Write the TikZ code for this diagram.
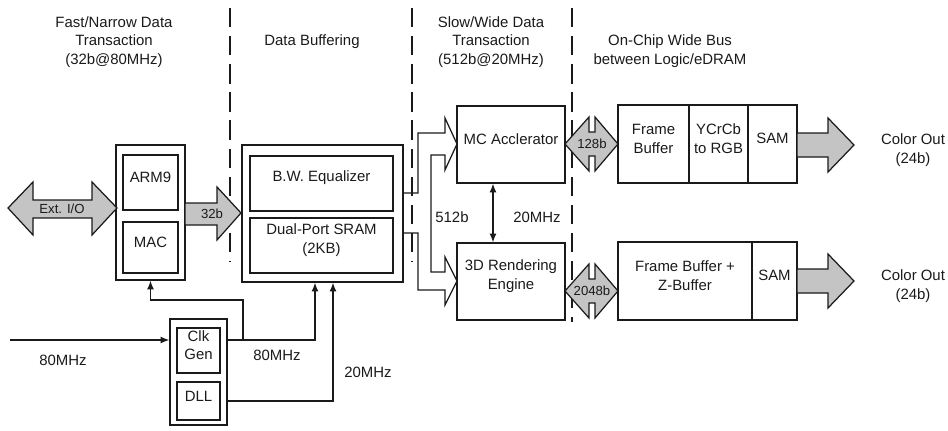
\documentclass[tikz,border=0pt]{standalone}
\usepackage{fontspec}
\setmainfont{Liberation Sans}
\usepackage{tikz}
\usetikzlibrary{arrows.meta,calc,fit}
\definecolor{inkmain}{HTML}{1A1A1A}
\definecolor{busfill}{HTML}{C4C4C4}
\tikzset{every node/.append style={font=\fontsize{8.5}{10.5}\selectfont,align=center,text=inkmain},
  blk/.style={draw=inkmain,line width=.8pt,inner sep=0pt},
  bus/.style={draw=inkmain,line width=.7pt,fill=busfill},
  buslabel/.style={font=\fontsize{7.5}{9}\selectfont,inner sep=0pt},
  wire/.style={draw=inkmain,line width=.7pt},
  divider/.style={inkmain,line width=.6pt,dash pattern=on 11pt off 5pt}}

\begin{document}
\begin{tikzpicture}[>={Latex[length=5pt,width=4pt]},x=.02cm,y=-.02cm]
  \useasboundingbox (0,0) rectangle (948,430);
  % section dividers and headings
  \foreach \x/\yb in {230/262,412/262,572/322}
    \draw[divider] (\x,8) -- (\x,\yb);
  \node (hfast) at (114,42) {Fast/Narrow Data\\Transaction\\(32b@80MHz)};
  \node (hbuf) at (312,42) {Data Buffering};
  \node (hslow) at (491,42) {Slow/Wide Data\\Transaction\\(512b@20MHz)};
  \node (hbus) at (670,51) {On-Chip Wide Bus\\between Logic/eDRAM};

  % processor
  \node[blk,fit={(116,145) (185,280)}] (cpu) {};
  \node[blk,fit={(123,155) (178,210)}] (arm) {ARM9};
  \node[blk,fit={(123,222) (178,273)}] (mac) {MAC};
  % buffer
  \node[blk,fit={(242,145) (403,282)}] (bufbox) {};
  \node[blk,fit={(250,156) (393,211)}] (bwe) {B.W. Equalizer};
  \node[blk,fit={(250,218) (393,273)}] (sram) {Dual-Port SRAM\\(2KB)};
  % engines
  \node[blk,fit={(457,106) (565,183)}] (mc) {MC Acclerator};
  \node[blk,fit={(457,243) (565,320)}] (rend) {3D Rendering\\Engine};
  % eDRAM side
  \node[blk,fit={(618,105) (689,183)}] (fb) {Frame\\Buffer};
  \node[blk,fit={(689,105) (748,183)}] (ycc) {YCrCb\\to RGB};
  \node[blk,fit={(748,105) (797,183)}] (samA) {SAM};
  \node[blk,fit={(618,242) (752,320)}] (fbz) {Frame Buffer +\\Z-Buffer};
  \node[blk,fit={(752,242) (797,320)}] (samB) {SAM};
  % clock
  \node[blk,fit={(170,319) (227,425)}] (clkbox) {};
  \node[blk,fit={(177,328) (220,373)}] (clk) {Clk\\Gen};
  \node[blk,fit={(177,382) (220,420)}] (dll) {DLL};

  % wide buses
  \draw[bus] (8,208) -- (33,182) -- (33,200) -- (92,200) -- (92,182) -- (117,208)
    -- (92,235) -- (92,218) -- (33,218) -- (33,235) -- cycle;
  \node[buslabel] (extio) at (62,209) {Ext. I/O};
  \draw[bus] (185,203) -- (217,203) -- (217,187) -- (241,213) -- (217,240)
    -- (217,225) -- (185,225) -- cycle;
  \node[buslabel] (w32) at (212,214) {32b};
  \draw[wire] (403,193) -- (418,193) -- (418,133) -- (445,133) -- (445,118) -- (457,144)
    -- (445,170) -- (445,155) -- (431,155) -- (431,272) -- (445,272) -- (445,257)
    -- (457,281) -- (445,305) -- (445,290) -- (418,290) -- (418,233) -- (403,233);
  \node (w512) at (452,217) {512b};
  \foreach \yc/\lab/\nm in {144/128b/wbA,291/2048b/wbB} {
    \draw[bus] (565,\yc) -- (589,\yc-27) -- (589,\yc-12) -- (595,\yc-12) -- (595,\yc-27)
      -- (618,\yc) -- (595,\yc+27) -- (595,\yc+12) -- (589,\yc+12) -- (589,\yc+27) -- cycle;
    \node[buslabel] (\nm) at (592,\yc) {\lab};
  }
  \foreach \yc/\nm in {145/outA,281/outB} {
    \draw[bus] (797,\yc-12) -- (828,\yc-12) -- (828,\yc-27) -- (854,\yc) -- (828,\yc+27)
      -- (828,\yc+12) -- (797,\yc+12) -- cycle;
    \node (\nm) at (913,\yc+5) {Color Out\\(24b)};
  }

  % control
  \draw[wire,<->] ($(mc.south)+(-18,0)$) -- ($(rend.north)+(-18,0)$);
  \node (f20) at (537,217) {20MHz};

  % clock distribution
  \coordinate (in80) at (10,340);
  \draw[wire,->] (in80) -- (in80 -| clkbox.west);
  \draw[wire,->] (clkbox.east |- in80) -| (315,0 |- bufbox.south);
  \draw[wire,->] (243,0 |- in80) -- (243,300) -| (cpu.south);
  \draw[wire,->] (clkbox.east |- dll) -| (333,0 |- bufbox.south);
  \node (fin) at (63,360) {80MHz};
  \node (fclk) at (277,355) {80MHz};
  \node (fdll) at (368,372) {20MHz};
\end{tikzpicture}
\end{document}
